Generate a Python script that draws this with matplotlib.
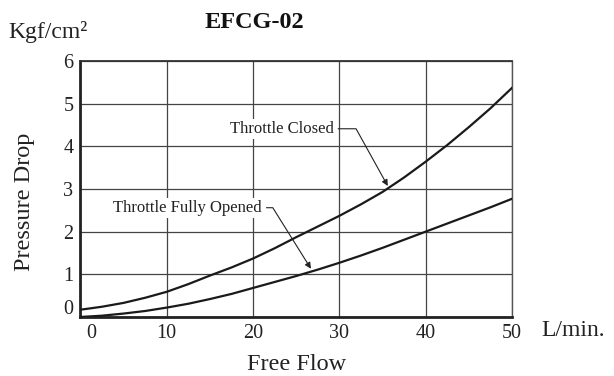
import matplotlib
matplotlib.use("Agg")
import matplotlib.pyplot as plt
import matplotlib.transforms as mtransforms
import numpy as np

plt.rcParams['font.family'] = ['Liberation Serif', 'DejaVu Serif']

# values (every 2.5 L/min)
flow = np.array([0, 2.5, 5, 7.5, 10, 12.5, 15, 17.5, 20, 22.5, 25,
                 27.5, 30, 32.5, 35, 37.5, 40, 42.5, 45, 47.5, 50])
closed = np.array([0.17, 0.24, 0.33, 0.45, 0.59, 0.77, 0.97, 1.16, 1.37, 1.61, 1.87,
                   2.12, 2.37, 2.64, 2.93, 3.27, 3.64, 4.03, 4.45, 4.89, 5.37])
opened = np.array([0.0, 0.03, 0.08, 0.14, 0.22, 0.31, 0.42, 0.54, 0.68, 0.82, 0.96,
                   1.11, 1.27, 1.44, 1.62, 1.81, 2.0, 2.19, 2.38, 2.57, 2.77])

x_ticks = [0, 10, 20, 30, 40, 50]
y_ticks = [0, 1, 2, 3, 4, 5, 6]

fig = plt.figure(figsize=(6.14, 3.76), dpi=100)
ax = fig.add_axes([0.131, 0.157, 0.703, 0.681])

ax.plot(flow, closed, color="#1a1a1a", lw=1.6, zorder=3)
ax.plot(flow, opened, color="#1a1a1a", lw=1.6, zorder=3)

ax.set_xlim(0, 50)
ax.set_ylim(0, 6)
ax.set_xticks(x_ticks)
ax.set_yticks(y_ticks)
ax.grid(True, color="#444444", lw=0.9)
ax.tick_params(length=0, labelsize=14.5, colors="#222222", pad=5)

for s in ["left", "bottom"]:
    ax.spines[s].set_linewidth(2.0)
    ax.spines[s].set_color("#222222")
ax.spines["top"].set_linewidth(1.3)
ax.spines["top"].set_color("#333333")
ax.spines["right"].set_linewidth(1.0)
ax.spines["right"].set_color("#555555")

# nudge the two zero labels away from the corner
fig.canvas.draw()
ax.get_xticklabels()[0].set_transform(
    ax.get_xticklabels()[0].get_transform() + mtransforms.ScaledTranslation(0.11, 0, fig.dpi_scale_trans))
ax.get_yticklabels()[0].set_transform(
    ax.get_yticklabels()[0].get_transform() + mtransforms.ScaledTranslation(0, 0.10, fig.dpi_scale_trans))

ax.set_xlabel("Free Flow", fontsize=17.5, color="#222222", labelpad=8)
ax.set_ylabel("Pressure Drop", fontsize=17.5, color="#222222")
ax.yaxis.set_label_coords(-0.105, 0.45)

fig.text(0.013, 0.915, "Kgf/cm²", fontsize=17, color="#222222", va="center")
fig.text(0.415, 0.94, "EFCG-02", fontsize=17.5, fontweight="bold", color="#111111", ha="center", va="center")
fig.text(0.882, 0.122, "L/min.", fontsize=17, color="#222222", va="center")

ax.annotate("Throttle Closed", xy=(35.6, 3.07), xytext=(29.3, 4.41),
            ha="right", va="center", fontsize=12, color="#222222",
            bbox=dict(fc="white", ec="none", pad=1.5),
            arrowprops=dict(arrowstyle="-|>", color="#222222", lw=0.8, mutation_scale=9,
                            connectionstyle="angle,angleA=0,angleB=-61,rad=0",
                            shrinkA=2, shrinkB=0), zorder=4)
ax.annotate("Throttle Fully Opened", xy=(26.7, 1.13), xytext=(21.0, 2.56),
            ha="right", va="center", fontsize=12, color="#222222",
            bbox=dict(fc="white", ec="none", pad=1.5),
            arrowprops=dict(arrowstyle="-|>", color="#222222", lw=0.8, mutation_scale=9,
                            connectionstyle="angle,angleA=0,angleB=-58,rad=0",
                            shrinkA=2, shrinkB=0), zorder=4)

fig.savefig("out.png", dpi=100)
